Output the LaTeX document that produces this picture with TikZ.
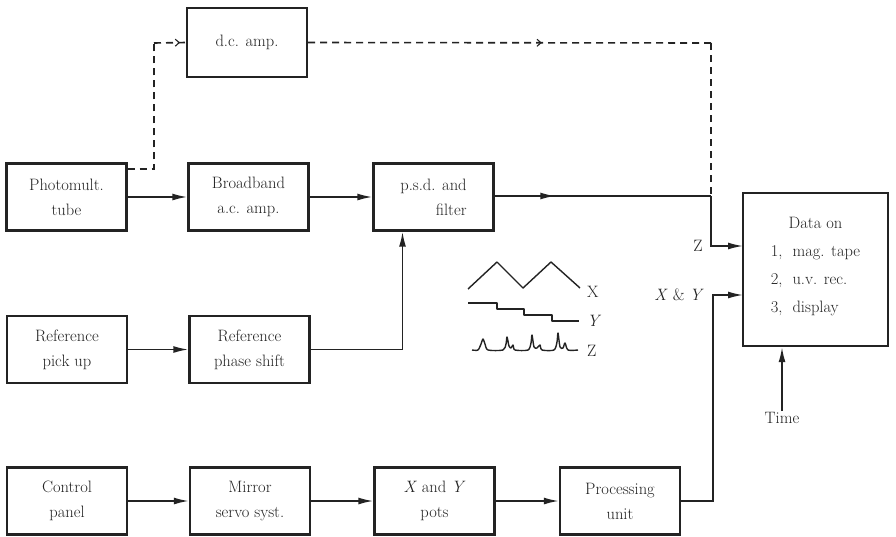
\documentclass[tikz,border=0pt]{standalone}
\usetikzlibrary{arrows.meta,decorations.markings}
\definecolor{ink}{RGB}{35,35,35}
\begin{document}
\begin{tikzpicture}[x=1pt,y=-1pt,
  font=\fontsize{16.5}{25}\selectfont,
  blk/.style={draw=ink,line width=2.4pt,minimum width=120pt,minimum height=67pt,align=center,inner sep=2pt,text=ink},
  conn/.style={draw=ink,line width=1.6pt},
  arr/.style={conn,-{Latex[length=15pt,width=7pt]}},
  dsh/.style={draw=ink,line width=1.6pt,dash pattern=on 7pt off 5pt},
  midarr/.style={postaction={decorate},decoration={markings,mark=at position #1 with {\arrow{Latex[length=15pt,width=7pt]}}}},
  dmid/.style={postaction={decorate},decoration={markings,mark=at position #1 with {\arrow[line width=1.1pt]{Straight Barb[length=4pt,width=7pt]}}}},
  lbl/.style={text=ink,inner sep=1pt},
  wave/.style={draw=ink,line width=1.4pt,line join=round}]
\useasboundingbox (0,0) rectangle (896,536);
\fill[white] (0,0) rectangle (896,536);

% boxes
\node[blk] (pm) at (66.5,197) {Photomult.\\tube};
\node[blk] (bb) at (248.5,197) {Broadband\\a.c. amp.};
\node[blk] (psd) at (433.5,197) {p.s.d. and\\\hfill filter};
\node[blk,minimum height=69pt] (dc) at (247,42.5) {d.c. amp.};
\node[blk] (rp) at (67,349.5) {Reference\\pick up};
\node[blk] (rs) at (249.5,349.5) {Reference\\phase shift};
\node[blk] (cp) at (67,501) {Control\\panel};
\node[blk] (ms) at (250,501) {Mirror\\servo syst.};
\node[blk] (xy) at (434.5,501) {\textit{X} and \textit{Y}\\pots};
\node[blk] (pu) at (620,501) {Processing\\unit};
\node[blk,minimum width=145pt,minimum height=153pt,font=\fontsize{16.5}{27.7}\selectfont] (data) at (815.5,269.5)
  {\begin{tabular}{@{}l@{}}\multicolumn{1}{@{}c@{}}{Data on}\\1,\ \ mag. tape\\2,\ \ u.v. rec.\\3,\ \ display\end{tabular}\\[8pt]};

% coordinates
\coordinate (zc) at (711,196);
\coordinate (dcr) at (711,43);
\coordinate (zin) at (743,246);
\coordinate (xyin) at (743,295);
\coordinate (pmd) at (154,169);
\coordinate (dcl) at (154,43);

% solid connectors
\draw[arr] (pm) -- (bb);
\draw[arr] (bb) -- (psd);
\draw[arr] (rp) -- (rs);
\draw[arr] (rs.east) -| ([xshift=-31pt]psd.south);
\draw[arr] (cp) -- (ms);
\draw[arr] (ms) -- (xy);
\draw[arr] (xy) -- (pu);
\draw[conn,midarr=0.28] (psd.east |- zc) -- (zc);
\draw[arr] (zc) |- (zin);
\draw[arr] (pu.east) -| (713,295) -- (xyin);

% dashed connectors
\draw[dsh] (pm.east |- pmd) -- (pmd) -- (dcl);
\draw[dsh,dmid=0.82] (dcl) -- (dc.west);
\draw[dsh,dmid=0.58] (dc.east) -- (dcr);
\draw[dsh] (dcr) -- (zc);

% labels
\node[lbl] (zl) at (698,246) {Z};
\node[lbl,anchor=east] (xyl) at (705,295) {\textit{X} \& \textit{Y}};
\node[lbl] (time) at (782,418) {Time};
\draw[arr] (time.north) -- (time.north |- data.south);

% waveforms
\draw[wave] (468,289) -- (497,262) -- (523,288) -- (551,262) -- (580,288);
\draw[wave] (468,303) -- (497,303) -- (497,309) -- (524,309) -- (524,315) -- (552,315) -- (552,321) -- (579,321);
\draw[wave] plot[smooth,tension=0.45] coordinates {
  (472,350) (478,350) (481,344) (483,339) (485,344) (488,350) (503,350)
  (506,344) (507,337) (509,346) (511,348) (513,345) (515,350) (528,350)
  (531,343) (532,335) (534,347) (537,348) (540,345) (542,350) (554,350)
  (557,342) (558,333) (560,347) (563,348) (565,343) (568,350) (578,350)};
\node[lbl,anchor=west] (wx) at (586,292) {X};
\node[lbl,anchor=west] (wy) at (586,321) {\textit{Y}};
\node[lbl,anchor=west] (wz) at (586,351) {Z};
\end{tikzpicture}
\end{document}
